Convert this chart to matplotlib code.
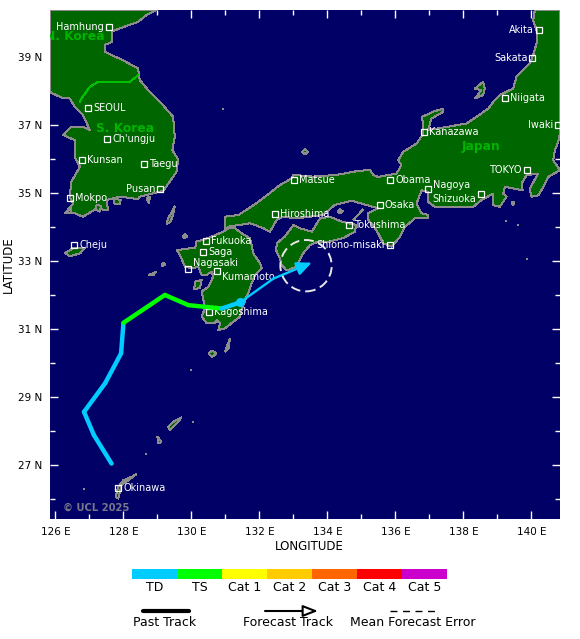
import matplotlib
matplotlib.use("Agg")
import matplotlib.pyplot as plt
from matplotlib.patches import Circle

# --- coastlines (lon, lat) ---
korea_lon = [125.84, 128.97, 128.68, 128.43, 127.89, 127.65, 127.65, 127.45, 127.45, 127.99, 128.43, 128.48, 128.73, 129.12, 129.46, 129.51, 129.44, 129.61, 129.56, 129.36, 129.17, 128.48, 128.43, 127.89, 127.50, 127.55, 127.21, 126.81, 126.57, 126.28, 126.52, 126.42, 126.47, 126.72, 126.57, 126.57, 126.23, 126.47, 126.81, 127.01, 126.81, 126.57, 126.42, 126.23, 125.93, 125.84]
korea_lat = [40.38, 40.38, 40.23, 40.03, 39.84, 39.74, 39.44, 39.35, 39.15, 38.90, 38.66, 38.32, 38.02, 37.63, 37.24, 36.65, 36.26, 35.98, 35.62, 35.33, 35.06, 34.89, 34.82, 34.89, 34.79, 34.49, 34.54, 34.30, 34.40, 34.40, 34.69, 34.89, 35.33, 35.77, 36.06, 36.55, 36.70, 36.95, 36.95, 36.85, 37.29, 37.53, 37.78, 37.78, 37.92, 37.97]
border_lon = [128.43, 128.19, 127.70, 127.26, 127.01, 126.77, 126.72]
border_lat = [38.46, 38.27, 38.27, 38.27, 38.12, 37.78, 37.68]

kyushu_lon = [130.35, 130.55, 130.94, 131.09, 131.28, 131.48, 131.72, 131.77, 131.82, 132.02, 132.07, 131.87, 131.77, 131.67, 131.58, 131.48, 131.43, 131.18, 130.99, 130.79, 130.84, 130.74, 130.69, 130.45, 130.30, 130.40, 130.30, 130.50, 130.64, 130.60, 130.45, 130.30, 130.20, 130.01, 129.81, 129.66, 129.57, 129.96, 130.11, 130.15]
kyushu_lat = [33.62, 33.70, 33.86, 33.96, 33.96, 33.81, 33.67, 33.47, 33.22, 32.93, 32.78, 32.59, 32.34, 32.05, 31.85, 31.56, 31.36, 31.17, 31.02, 30.97, 31.17, 31.26, 31.17, 31.17, 31.36, 31.61, 32.10, 32.24, 32.54, 32.69, 32.59, 32.59, 32.83, 32.78, 32.83, 33.18, 33.32, 33.37, 33.37, 33.57]

honshu_lon = [130.99, 130.99, 131.38, 131.92, 132.31, 132.60, 132.95, 132.99, 133.58, 134.27, 134.81, 135.25, 135.35, 135.49, 136.03, 136.18, 136.08, 136.23, 136.62, 136.82, 136.79, 137.11, 137.41, 137.41, 137.06, 136.96, 138.09, 138.39, 138.73, 138.92, 139.07, 139.46, 139.56, 139.95, 140.05, 140.15, 140.15, 140.05, 140.10, 140.84,
             140.84, 140.79, 140.69, 140.64, 140.84, 140.49, 140.35, 140.20, 140.00, 139.95, 140.20, 139.86, 139.71, 139.74, 139.22, 139.17, 139.27, 139.07, 138.88, 138.88, 138.53, 138.29, 137.16, 136.96, 136.96, 136.77, 136.62, 136.77, 136.96, 136.96, 136.57, 136.28, 136.13, 135.89, 135.64, 135.44, 135.20, 135.20, 135.49, 134.95, 134.71, 134.22, 133.87, 133.10, 132.70, 132.51, 132.31, 132.12, 131.72, 131.43, 131.09]
honshu_lat = [33.89, 34.30, 34.35, 34.70, 35.00, 35.23, 35.43, 35.53, 35.48, 35.53, 35.63, 35.68, 35.53, 35.47, 35.57, 35.82, 35.96, 36.21, 36.45, 36.75, 37.24, 37.39, 37.48, 37.39, 37.19, 36.85, 37.04, 37.24, 37.48, 37.73, 37.88, 38.07, 38.42, 38.81, 39.05, 39.40, 39.79, 40.08, 40.38, 40.38,
             36.75, 36.50, 36.26, 35.96, 35.67, 35.47, 35.18, 34.93, 34.89, 35.13, 35.57, 35.52, 35.28, 35.08, 35.18, 34.98, 34.89, 34.59, 34.64, 34.98, 34.79, 34.59, 34.59, 34.74, 35.03, 35.08, 34.69, 34.40, 34.35, 34.25, 34.25, 34.00, 33.71, 33.42, 33.52, 33.91, 34.21, 34.40, 34.55, 34.70, 34.77, 34.65, 34.35, 34.25, 34.30, 34.21, 33.86, 33.96, 34.11, 34.06, 34.01]

shikoku_lon = [132.51, 132.75, 133.00, 133.19, 133.54, 133.78, 134.07, 134.41, 134.61, 134.84, 134.81, 134.46, 134.07, 133.73, 133.49, 133.29, 133.14, 133.05, 132.80, 132.65, 132.60, 132.49]
shikoku_lat = [33.52, 33.72, 34.06, 33.96, 33.86, 34.25, 34.30, 34.16, 34.11, 34.06, 33.86, 33.67, 33.57, 33.57, 33.47, 33.23, 32.93, 32.81, 32.72, 32.88, 33.08, 33.32]

# smaller islands
islands = [
    ([126.28, 126.52, 126.86, 126.72, 126.42], [33.24, 33.37, 33.37, 33.22, 33.14]),  # Cheju
    ([129.51, 129.41, 129.31, 129.27, 129.38, 129.46], [34.61, 34.40, 34.25, 34.08, 34.15, 34.35]),  # Tsushima
    ([128.68, 128.77, 128.76], [34.84, 34.89, 34.69]),
    ([127.21, 127.35, 127.30, 127.18], [34.65, 34.62, 34.45, 34.52]),
    ([127.72, 127.92, 127.88, 127.74], [34.82, 34.80, 34.66, 34.68]),
    ([126.28, 126.47, 126.47], [34.40, 34.55, 34.40]),
    ([129.74, 129.81, 129.87, 129.80], [33.73, 33.80, 33.72, 33.66]),
    ([130.11, 130.30, 130.25, 130.08], [32.39, 32.44, 32.20, 32.17]),  # Amakusa
    ([130.50, 130.61, 130.74, 130.61], [30.28, 30.36, 30.28, 30.18]),  # Yakushima
    ([131.13, 131.04, 130.99, 131.09], [30.72, 30.47, 30.33, 30.43]),  # Tanegashima
    ([129.71, 129.47, 129.32, 129.37, 129.57], [28.40, 28.27, 28.12, 28.02, 28.22]),  # Amami
    ([129.00, 129.12, 129.03], [27.83, 27.68, 27.63]),
    ([128.39, 128.14, 127.95, 127.85, 127.77, 127.85, 128.00, 128.24], [26.73, 26.55, 26.41, 26.01, 26.06, 26.36, 26.55, 26.65]),  # Okinawa
    ([128.73, 128.96, 128.88], [32.58, 32.68, 32.58]),
    ([129.12, 129.24, 129.17], [32.85, 32.88, 32.95]),
    ([135.05, 134.76, 134.95], [34.52, 34.20, 34.40]),  # Awaji
    ([138.58, 138.34, 138.53, 138.34, 138.58, 138.63], [38.27, 38.07, 38.02, 37.78, 37.88, 38.07]),  # Sado
    ([133.26, 133.34, 133.42, 133.34], [36.21, 36.29, 36.21, 36.13]),  # Oki
    ([134.29, 134.37, 134.45, 134.37], [34.46, 34.52, 34.46, 34.40]),
    ([139.42, 139.50, 139.46], [34.72, 34.72, 34.64]),
]
specks_lon = [130.93, 128.66, 126.85, 129.98, 130.06, 139.61, 139.86, 139.24]
specks_lat = [37.46, 27.31, 26.28, 29.79, 28.25, 34.05, 33.07, 34.17]

# --- cities ---
city_names = ["Hamhung", "SEOUL", "Ch'ungju", "Kunsan", "Taegu", "Pusan", "Mokpo", "Cheju", "Fukuoka", "Saga", "Nagasaki", "Kumamoto", "Kagoshima", "Hiroshima", "Matsue", "Obama", "Osaka", "Tokushima", "Shiono-misaki", "Nagoya", "Shizuoka", "TOKYO", "Kanazawa", "Niigata", "Sakata", "Akita", "Iwaki", "Okinawa"]
city_lon = [127.58, 126.96, 127.52, 126.79, 128.61, 129.08, 126.44, 126.55, 130.42, 130.34, 129.91, 130.74, 130.53, 132.47, 133.03, 135.84, 135.54, 134.64, 135.84, 136.96, 138.53, 139.86, 136.85, 139.23, 140.03, 140.23, 140.79, 127.85]
city_lat = [39.89, 37.51, 36.60, 35.96, 35.84, 35.13, 34.84, 33.48, 33.58, 33.25, 32.76, 32.70, 31.49, 34.38, 35.38, 35.38, 34.64, 34.07, 33.48, 35.13, 34.98, 35.67, 36.78, 37.78, 38.98, 39.79, 37.00, 26.31]
left_labels = ["Hamhung", "Pusan", "Shiono-misaki", "Shizuoka", "TOKYO", "Sakata", "Akita", "Iwaki"]
label_nudge = {"Nagasaki": (0, 6), "Kumamoto": (0, -6), "Nagoya": (0, 4), "Shizuoka": (0, -5)}

# --- track ---
past_lon = [127.65, 127.13, 126.84, 127.46, 127.93, 128.00, 129.22, 129.91, 130.89, 131.43]
past_lat = [27.04, 27.88, 28.56, 29.40, 30.28, 31.18, 32.00, 31.70, 31.60, 31.78]
past_cat = ["TD", "TD", "TD", "TD", "TD", "TS", "TS", "TS", "TD"]
fcst_lon = [131.43, 132.41, 133.54]
fcst_lat = [31.78, 32.48, 32.95]
err_lon, err_lat, err_radius = 133.37, 32.86, 0.755

cat_names = ["TD", "TS", "Cat 1", "Cat 2", "Cat 3", "Cat 4", "Cat 5"]
cat_colors = ["#00ccff", "#00ff00", "#ffff00", "#ffcc00", "#ff6600", "#ff0000", "#cc00cc"]
cat_color = dict(zip(cat_names, cat_colors))

SEA = "#000066"
LAND = "#006600"
COAST = "#8c8c8c"
W, H = 580, 639

fig = plt.figure(figsize=(W / 100, H / 100), dpi=100)
ax = fig.add_axes([50 / W, (H - 519) / H, 510 / W, 509 / H])
ax.set_facecolor(SEA)
ax.set_xlim(125.84, 140.84)
ax.set_ylim(25.41, 40.38)

for lon, lat in [(korea_lon, korea_lat), (kyushu_lon, kyushu_lat), (honshu_lon, honshu_lat), (shikoku_lon, shikoku_lat)] + islands:
    ax.fill(lon, lat, facecolor=LAND, edgecolor=COAST, linewidth=0.72, antialiased=False, zorder=2)
ax.plot(specks_lon, specks_lat, ls="none", marker="s", ms=1.5, color=COAST, mew=0, zorder=2)
ax.plot(border_lon, border_lat, color="#00c000", lw=0.72, antialiased=False, zorder=3)

for name, x, y, tx in [("N. Korea", 127.45, 39.59, "right"), ("S. Korea", 128.06, 36.90, "center"), ("Japan", 138.53, 36.36, "center")]:
    ax.text(x, y, name, color="#00b400", fontweight="bold", fontsize=8.8, ha=tx, va="center", clip_on=True, zorder=4)

# city boxes and names
ax.plot(city_lon, city_lat, ls="none", marker="s", ms=4.6, mfc="none", mec="white", mew=0.9, zorder=5, clip_on=True)
for name, lon, lat in zip(city_names, city_lon, city_lat):
    left = name in left_labels
    dx, dy = label_nudge.get(name, (0, 0))
    ax.annotate(name, (lon, lat), xytext=((-5 if left else 5) + dx, dy), textcoords="offset pixels",
                color="white", fontsize=7, ha="right" if left else "left", va="center",
                annotation_clip=False, clip_on=True, zorder=6)

# past track, coloured by category
for i, cat in enumerate(past_cat):
    ax.plot(past_lon[i:i + 2], past_lat[i:i + 2], color=cat_color[cat], lw=3.2, solid_capstyle="round", zorder=7)
ax.plot(past_lon[-1], past_lat[-1], "o", color=cat_color["TD"], ms=6.5, mew=0, zorder=8)

# forecast track
ax.plot(fcst_lon[:2], fcst_lat[:2], color=cat_color["TD"], lw=1.7, zorder=7)
ax.annotate("", xy=(fcst_lon[2], fcst_lat[2]), xytext=(fcst_lon[1], fcst_lat[1]),
            arrowprops=dict(arrowstyle="-|>,head_length=0.9,head_width=0.4", color=cat_color["TD"], lw=1.7, shrinkA=0, shrinkB=0), zorder=7)
ax.add_patch(Circle((err_lon, err_lat), err_radius, fill=False, ec="#e8e8e8", lw=1.4, ls=(0, (5, 2.5)), zorder=8))

ax.text(13 / 510, 11 / 509, "\u00a9 UCL 2025", transform=ax.transAxes, color="#77778c", fontsize=7.2, fontweight="bold", va="center", zorder=9)

# axes
for s in ax.spines.values():
    s.set_visible(False)
lon_major = [126, 128, 130, 132, 134, 136, 138, 140]
lat_major = [27, 29, 31, 33, 35, 37, 39]
ax.set_xticks(lon_major)
ax.set_xticklabels([f"{v} E" for v in lon_major])
ax.set_yticks(lat_major)
ax.set_yticklabels([f"{v} N" for v in lat_major])
ax.set_xticks([127, 129, 131, 133, 135, 137, 139], minor=True)
ax.set_yticks([26, 28, 30, 32, 34, 36, 38, 40], minor=True)
ax.tick_params(which="major", direction="in", length=6, width=1, color="white", labelcolor="black", labelsize=7.5, pad=5.5, top=True, right=True, zorder=10)
ax.tick_params(which="minor", direction="in", length=3.5, width=1, color="white", top=True, right=True, zorder=10)
ax.set_xlabel("LONGITUDE", fontsize=8.5, labelpad=2.5, x=0.508)
ax.set_ylabel("LATITUDE", fontsize=8.5, labelpad=2)

# category colour bar
cax = fig.add_axes([132 / W, (H - 579) / H, 315 / W, 10 / H])
cax.bar(range(len(cat_names)), [1] * len(cat_names), width=1, color=cat_colors)
cax.set_xlim(-0.5, 6.5)
cax.set_ylim(0, 1)
cax.set_xticks(range(len(cat_names)))
cax.set_xticklabels(cat_names, fontsize=9)
cax.set_yticks([])
cax.tick_params(length=0, pad=1.5)
for s in cax.spines.values():
    s.set_visible(False)

# track legend, in pixel coords of the figure
lax = fig.add_axes([0, 0, 1, 1], facecolor="none")
lax.set_xlim(0, W)
lax.set_ylim(H, 0)
lax.axis("off")
lax.plot([143, 189], [611, 611], color="black", lw=3, solid_capstyle="round")
lax.annotate("", xy=(318, 611), xytext=(265, 611),
             arrowprops=dict(arrowstyle="-|>,head_length=0.9,head_width=0.35", fc="white", ec="black", lw=1.5, shrinkA=0, shrinkB=0))
lax.plot([390, 436], [611, 611], color="black", lw=1, ls=(0, (5, 4)))
lax.text(165, 623, "Past Track", fontsize=9, ha="center", va="center")
lax.text(288, 623, "Forecast Track", fontsize=9, ha="center", va="center")
lax.text(413, 623, "Mean Forecast Error", fontsize=9, ha="center", va="center")

fig.savefig("out.png", dpi=100)
